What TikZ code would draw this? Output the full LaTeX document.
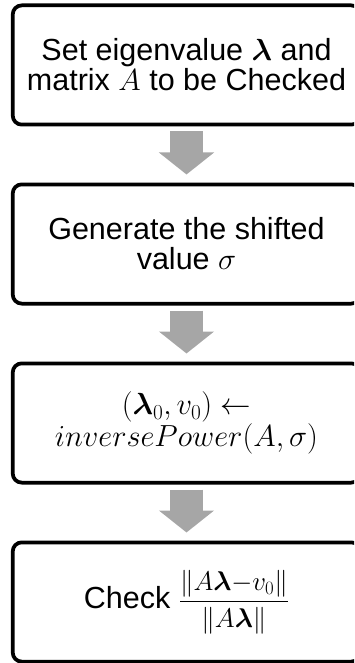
\RequirePackage{fix-cm}
\documentclass[tikz,border=0pt]{standalone}
\usepackage{amsmath}
\usepackage{fontspec}
\setmainfont{Liberation Sans}
\usetikzlibrary{arrows.meta,positioning}

\definecolor{flowgray}{RGB}{166,166,166}
\def\boxwidth{347.5pt}
\def\boxheight{119.25pt}

\begin{document}
\begin{tikzpicture}[x=1pt, y=-1pt,
    nodes = {font=\fontsize{30.5}{30}\selectfont},
    node distance = 56pt,
    stepbox/.style = {draw, line width=3.75pt, rounded corners=9pt,
      minimum width=\boxwidth, minimum height=\boxheight, align=center},
    flow/.style = {draw=flowgray, line width=33pt, shorten <=5pt, shorten >=8pt,
      -{Triangle[width=54pt, length=22pt, fill=flowgray]}}
  ]
  \useasboundingbox (0,0) rectangle (354,663);
  \clip (0,0) rectangle (354,663);

  % The four steps, top to bottom
  \node[stepbox] (set) at (186.5,65) {Set eigenvalue $\boldsymbol{\lambda}$ and\\
    matrix $A$ to be Checked};
  \node[stepbox, below=of set] (shift) {Generate the shifted\\ value $\sigma$};
  \node[stepbox, below=of shift] (inv)
    {$(\boldsymbol{\lambda}_0,v_0) \leftarrow$\\$inversePower(A, \sigma)$};
  \node[stepbox, below=of inv] (check) {Check
    {\fontsize{27}{30}\selectfont$\dfrac{\|A\boldsymbol{\lambda}{-}v_0\|}{\|A\boldsymbol{\lambda}\|}$}};

  % Block arrows between steps
  \foreach \from/\to in {set/shift, shift/inv, inv/check}
    \draw[flow] (\from) -- (\to);
\end{tikzpicture}
\end{document}
